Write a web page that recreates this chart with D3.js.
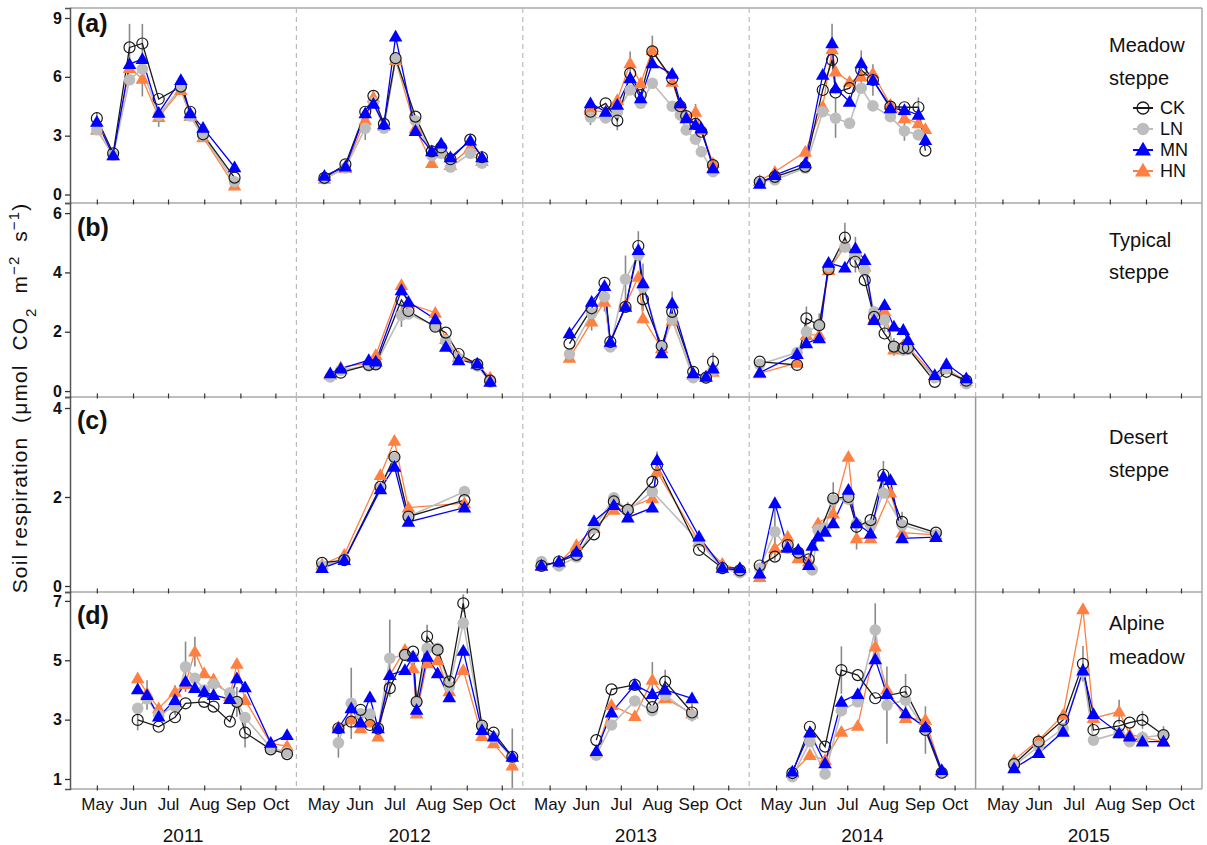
<!DOCTYPE html>
<html><head><meta charset="utf-8">
<script src="https://cdn.jsdelivr.net/npm/d3@7"></script>
<style>body{margin:0;background:#fff;} svg{display:block;font-family:"Liberation Sans",Arial,Helvetica,sans-serif;} text{white-space:pre;}</style>
</head><body><svg id="c" width="1207" height="845"></svg>
<script>
const years = [2011, 2012, 2013, 2014, 2015];
const months = ["May","Jun","Jul","Aug","Sep","Oct"];
const seriesNames = ["CK","LN","MN","HN"];
const rowLetters = ["(a)","(b)","(c)","(d)"];
const rowNames = [["Meadow","steppe"],["Typical","steppe"],["Desert","steppe"],["Alpine","meadow"]];
const ticksA = [0,3,6,9], ticksB = [0,2,4,6], ticksC = [0,2,4], ticksD = [1,3,5,7];

// rows: [date, CK, LN, MN, HN]
const meadow2011 = [
["05-01",3.89,3.3,3.71,3.3],["05-15",2.1,2.0,2.0,2.0],["05-29",7.5,5.85,6.65,6.45],
["06-09",7.7,6.4,6.9,5.9],["06-23",4.87,4.05,4.17,3.95],["07-12",5.5,5.45,5.84,5.33],
["07-20",4.22,4.0,4.14,4.0],["07-31",3.07,3.0,3.4,2.92],["08-27",0.86,0.65,1.39,0.45]];
const meadow2012 = [
["05-02",0.85,0.8,0.95,0.8],["05-20",1.54,1.35,1.42,1.35],["06-06",4.22,3.38,4.14,3.8],
["06-13",5.03,4.7,4.62,4.95],["06-22",3.6,3.38,3.58,3.5],["07-02",6.95,6.9,8.05,6.85],
["07-19",3.97,3.76,3.24,3.38],["08-02",2.2,2.0,2.2,1.6],["08-10",2.4,2.1,2.6,2.2],
["08-18",1.8,1.4,1.9,1.5],["09-04",2.8,2.1,2.75,2.4],["09-14",1.9,1.6,1.9,1.7]];
const meadow2013 = [
["06-05",4.22,3.94,4.65,4.3],["06-18",4.65,3.9,4.22,4.2],["06-28",3.77,4.2,4.57,4.82],
["07-09",6.18,5.33,5.93,6.69],["07-18",5.07,4.65,4.9,5.67],["07-28",7.3,5.67,6.69,7.37],
["08-14",5.9,4.5,6.15,5.75],["08-21",4.5,4.06,4.65,4.5],["08-26",4.0,3.29,3.89,4.0],
["09-03",3.6,2.82,3.55,4.22],["09-08",3.2,2.18,3.38,3.3],["09-18",1.5,1.16,1.34,1.59]];
const meadow2014 = [
["04-17",0.65,0.65,0.55,0.7],["04-30",0.9,0.75,0.99,1.16],["05-26",1.42,1.35,1.59,2.18],
["06-10",5.33,4.22,6.1,4.48],["06-18",6.86,null,7.71,7.4],["06-21",5.2,3.89,5.42,6.27],
["07-03",5.42,3.63,4.73,5.75],["07-13",6.35,5.42,6.69,6.01],["07-23",5.84,4.52,5.84,6.18],
["08-07",4.48,3.97,4.4,4.57],["08-19",4.45,3.24,4.31,3.89],["08-31",4.45,3.04,4.06,3.63],
["09-06",2.24,null,2.78,3.33]];
const typical2012 = [
["05-07",null,0.48,0.6,0.55],["05-16",0.62,0.7,0.76,0.8],["06-09",0.88,0.85,1.04,0.95],
["06-15",0.9,0.9,0.99,1.21],["07-07",3.07,2.56,3.4,3.57],["07-13",2.7,2.6,3.01,2.95],
["08-05",2.17,2.2,2.42,2.64],["08-14",1.97,1.7,1.49,1.75],["08-25",1.25,1.1,1.04,1.15],
["09-10",0.9,0.85,0.93,0.9],["09-21",0.35,0.3,0.31,0.45]];
const typical2013 = [
["05-18",1.6,1.25,1.95,1.12],["06-06",2.79,2.62,3.01,2.34],["06-17",3.65,3.18,3.54,3.01],
["06-22",1.66,1.49,1.66,1.6],["07-05",2.84,3.77,2.84,2.9],["07-16",4.89,4.58,4.75,3.85],
["07-20",3.09,3.5,3.63,2.45],["08-05",1.52,1.49,1.27,1.44],["08-14",2.67,2.42,2.96,2.38],
["09-01",0.65,0.45,0.6,0.55],["09-12",0.45,0.45,0.48,0.5],["09-18",0.99,0.7,0.76,0.65]];
const typical2014 = [
["04-17",0.99,0.9,0.62,0.6],["05-19",0.88,1.3,1.25,0.95],["05-27",2.45,2.0,1.61,1.89],
["06-07",2.22,2.22,1.78,1.9],["06-15",4.1,4.2,4.32,4.08],["06-29",5.17,4.86,4.16,4.86],
["07-08",4.36,4.6,4.81,4.7],["07-16",3.74,4.08,4.42,4.2],["07-24",2.5,2.67,2.39,2.45],
["08-02",1.94,2.4,2.9,2.7],["08-10",1.5,1.49,2.17,1.4],["08-18",1.45,1.38,2.06,1.55],
["08-22",1.45,1.4,1.72,1.5],["09-14",0.31,0.45,0.54,0.5],["09-24",0.65,0.75,0.91,0.75],
["10-11",0.35,0.25,0.43,0.33]];
const desert2012 = [
["04-30",0.52,0.45,0.4,0.48],["05-19",0.58,0.6,0.58,0.7],["06-19",2.23,2.2,2.17,2.49],
["07-01",2.9,2.87,2.68,3.26],["07-13",1.56,1.56,1.44,1.76],["08-30",1.93,2.12,1.76,1.86]];
const desert2013 = [
["04-24",0.45,0.55,0.46,0.45],["05-09",0.55,0.45,0.55,0.52],["05-24",0.7,0.65,0.77,0.92],
["06-08",1.16,1.3,1.46,1.3],["06-25",1.9,1.98,1.82,1.71],["07-07",1.71,1.7,1.54,1.75],
["07-28",2.34,2.12,1.76,1.97],["08-01",2.72,null,2.83,2.57],["09-06",0.81,1.0,1.11,1.0],
["09-26",0.4,0.4,0.41,0.5],["10-11",0.35,0.3,0.4,0.35]];
const desert2014 = [
["04-17",0.46,0.4,0.28,0.2],["04-30",0.66,1.22,1.86,0.85],["05-11",0.92,0.85,0.86,1.11],
["05-20",0.75,0.75,0.81,0.62],["05-29",0.6,null,0.47,0.55],["06-01",null,0.36,0.9,null],
["06-06",null,1.26,1.11,1.41],["06-12",null,1.3,1.22,null],["06-19",1.97,1.93,1.41,1.63],
["07-02",2.0,1.95,2.16,2.9],["07-09",1.33,1.4,1.41,1.07],["07-21",1.48,1.37,1.18,1.07],
["08-01",2.5,2.09,2.46,null],["08-07",null,null,2.38,2.1],["08-17",1.44,1.37,1.07,1.2],
["09-15",1.2,1.15,1.1,1.15]];
const alpine2011 = [
["06-05",2.99,3.38,4.02,4.39],["06-13",null,3.7,3.83,3.89],["06-23",2.76,3.15,3.1,3.38],
["07-07",3.08,3.45,3.66,3.94],["07-16",3.55,4.78,4.28,4.2],["07-24",null,4.39,4.06,5.29],
["08-01",3.6,4.0,3.94,4.56],["08-09",3.44,4.2,3.83,4.36],["08-23",2.93,3.9,3.69,3.8],
["08-29",3.6,3.6,4.39,4.88],["09-05",2.56,3.07,4.09,3.66],["09-27",2.0,2.05,2.22,2.2],
["10-11",1.84,1.9,2.48,2.11]];
const alpine2012 = [
["05-14",2.71,2.22,2.71,2.75],["05-25",2.93,3.55,3.38,3.0],["06-02",3.33,3.2,2.9,2.71],
["06-10",2.82,3.19,3.75,2.9],["06-17",2.7,2.7,2.71,2.43],["06-27",4.06,5.07,4.5,4.5],
["07-10",5.18,5.18,4.67,5.35],["07-17",5.29,5.1,5.12,4.73],["07-20",3.6,3.6,3.33,3.2],
["07-29",5.8,5.4,5.12,4.9],["08-07",5.35,5.4,4.56,5.0],["08-17",4.28,4.1,3.75,3.95],
["08-29",6.92,6.25,5.32,4.67],["09-14",2.8,2.8,2.65,2.45],["09-24",2.56,2.4,2.43,2.2],
["10-10",1.75,1.7,1.75,1.45]];
const alpine2013 = [
["06-10",2.31,1.8,1.94,1.9],["06-23",4.02,2.82,3.24,3.49],["07-13",4.17,3.63,4.17,3.12],
["07-28",3.42,3.3,3.86,4.34],["08-08",4.28,3.83,4.0,3.72],["08-31",3.24,3.15,3.72,3.21]];
const alpine2014 = [
["05-15",1.2,1.08,1.25,1.2],["05-30",2.76,2.26,2.56,1.81],["06-12",2.09,1.17,1.53,1.64],
["06-26",4.67,3.3,3.6,2.59],["07-10",4.5,3.6,3.86,2.79],["07-25",3.72,6.02,5.03,5.46],
["08-04",null,3.49,3.86,4.02],["08-20",3.94,3.66,3.21,3.05],["09-06",2.65,2.65,2.74,2.99],
["09-20",1.21,1.2,1.3,1.25]];
const alpine2015 = [
["05-11",1.5,1.45,1.36,1.64],["06-01",2.26,2.1,1.87,2.31],["06-22",2.99,2.7,2.59,3.16],
["07-09",4.88,4.6,4.65,6.72],["07-18",2.65,2.31,3.19,3.05],["08-09",2.79,2.55,2.54,3.27],
["08-18",2.9,2.26,2.43,2.5],["08-29",2.99,2.4,2.26,2.4],["09-16",2.48,2.48,2.26,2.26]];

// error bars: [series, point index, half length]
const errMeadow2011 = [["CK",0,0.3],["CK",2,1.2],["CK",3,1.0],["HN",3,0.9],["HN",4,0.5]];
const errMeadow2012 = [["LN",2,0.6],["CK",3,0.3],["MN",5,0.3],["CK",8,0.4]];
const errMeadow2013 = [["LN",0,0.4],["CK",2,0.5],["HN",3,0.6],["CK",5,0.8],["HN",9,0.4]];
const errMeadow2014 = [["MN",4,1.0],["LN",5,1.0],["CK",7,1.0],["CK",8,0.8],["LN",10,0.5],["CK",11,0.5]];
const errTypical2012 = [["LN",4,0.4]];
const errTypical2013 = [["HN",1,0.3],["LN",2,0.5],["LN",4,0.8],["CK",5,0.5],["LN",6,0.8],["MN",8,0.4],["CK",11,0.3]];
const errTypical2014 = [["CK",2,0.4],["LN",3,0.4],["CK",5,0.5],["LN",6,0.6],["LN",9,0.4],["LN",10,0.3]];
const errDesert2012 = [];
const errDesert2013 = [["CK",4,0.2],["CK",7,0.3]];
const errDesert2014 = [["LN",1,0.65],["LN",8,0.4],["HN",10,0.25],["MN",12,0.35],["LN",14,0.3]];
const errAlpine2011 = [["CK",0,0.35],["MN",1,0.5],["MN",3,0.5],["LN",4,0.85],["HN",5,0.5],["CK",9,0.5],["CK",10,0.5]];
const errAlpine2012 = [["LN",0,0.5],["LN",1,1.2],["LN",5,1.3],["CK",9,0.4],["CK",12,0.3],["LN",15,1.0]];
const errAlpine2013 = [["HN",3,0.6],["CK",4,0.4],["CK",5,0.3]];
const errAlpine2014 = [["CK",3,0.8],["LN",5,0.9],["LN",6,1.3],["CK",7,0.6],["LN",8,0.8]];
const errAlpine2015 = [["CK",3,0.6],["HN",5,0.4],["CK",7,0.3],["LN",8,0.3]];

const panels = [
 {row:0,col:0,data:meadow2011,err:errMeadow2011},{row:0,col:1,data:meadow2012,err:errMeadow2012},
 {row:0,col:2,data:meadow2013,err:errMeadow2013},{row:0,col:3,data:meadow2014,err:errMeadow2014},
 {row:1,col:1,data:typical2012,err:errTypical2012},{row:1,col:2,data:typical2013,err:errTypical2013},
 {row:1,col:3,data:typical2014,err:errTypical2014},
 {row:2,col:1,data:desert2012,err:errDesert2012},{row:2,col:2,data:desert2013,err:errDesert2013},
 {row:2,col:3,data:desert2014,err:errDesert2014},
 {row:3,col:0,data:alpine2011,err:errAlpine2011},{row:3,col:1,data:alpine2012,err:errAlpine2012},
 {row:3,col:2,data:alpine2013,err:errAlpine2013},{row:3,col:3,data:alpine2014,err:errAlpine2014},
 {row:3,col:4,data:alpine2015,err:errAlpine2015}];

// ---------- layout ----------
const L = 70, R = 1202, W = (R - L) / 5;
const rowBox = [[8,203],[203,397],[397,592],[592,789]];
const rowDomain = [[-0.433,9.51],[-0.2,6.34],[-0.135,4.247],[0.663,7.30]];
const rowTicks = [ticksA, ticksB, ticksC, ticksD];
const colors = {CK:"#1a1a1a", LN:"#bdbdbd", MN:"#0000ff", HN:"#ff8040"};
const drawOrder = ["HN","LN","CK","MN"];
const frameCol = "#a8a8a8";

const svg = d3.select("#c");
svg.append("rect").attr("width",1207).attr("height",845).attr("fill","#fff");

const yScales = rowBox.map((b,i)=>d3.scaleLinear().domain(rowDomain[i]).range([b[1], b[0]]));
const xScales = years.map((yr,c)=>d3.scaleTime()
  .domain([new Date(yr,3,8), new Date(yr,9,19)]).range([L + c*W, L + (c+1)*W]));

// frame
const g0 = svg.append("g");
g0.append("line").attr("x1",L).attr("x2",R).attr("y1",rowBox[0][0]).attr("y2",rowBox[0][0]).attr("stroke",frameCol).attr("stroke-width",1.5);
rowBox.forEach(b=>{
  g0.append("line").attr("x1",L).attr("x2",R).attr("y1",b[1]).attr("y2",b[1]).attr("stroke",frameCol).attr("stroke-width",1.5);
});
g0.append("line").attr("x1",R).attr("x2",R).attr("y1",rowBox[0][0]).attr("y2",rowBox[3][1]).attr("stroke",frameCol).attr("stroke-width",1.5);
for (let c=1;c<5;c++){
  rowBox.forEach((b,r)=>{
    const solid = (c===4 && r>=2);
    g0.append("line").attr("x1",L+c*W).attr("x2",L+c*W).attr("y1",b[0]).attr("y2",b[1])
      .attr("stroke",solid?"#999":"#bbb").attr("stroke-width",solid?1.5:1.2)
      .attr("stroke-dasharray",solid?null:"5,4");
  });
}

// x ticks per row / column
rowBox.forEach((b,r)=>{
  years.forEach((yr,c)=>{
    const ax = d3.axisBottom(xScales[c])
      .tickValues(months.map((m,i)=>new Date(yr,4+i,1)))
      .tickSize(-5).tickFormat(r===3 ? (d=>months[d.getMonth()-4]) : "");
    const g = svg.append("g").attr("transform",`translate(0,${b[1]+1.5})`).call(ax);
    g.select(".domain").remove();
    g.selectAll(".tick line").attr("stroke","#333").attr("stroke-width",1.2);
    g.selectAll(".tick text").attr("font-size",17).attr("fill","#111").attr("dy","0.95em")
      .attr("font-family","Liberation Sans, Arial, sans-serif");
  });
});

// y axes
rowBox.forEach((b,r)=>{
  const ax = d3.axisLeft(yScales[r]).tickValues(rowTicks[r]).tickFormat(d3.format("d"))
    .tickSize(5).tickPadding(3);
  const g = svg.append("g").attr("transform",`translate(${L},0)`).call(ax);
  g.select(".domain").attr("stroke","#555").attr("stroke-width",1.5);
  g.selectAll(".tick line").attr("stroke","#333").attr("stroke-width",1.3);
  g.selectAll(".tick text").attr("font-size",16).attr("font-weight","bold").attr("fill","#111")
    .attr("font-family","Liberation Sans, Arial, sans-serif");
});

// year labels
years.forEach((yr,c)=>{
  svg.append("text").attr("x",L+c*W+W/2).attr("y",842).attr("text-anchor","middle")
    .attr("font-size",19).attr("fill","#111").text(yr);
});

// panel letters and names
const letterY = [32,236,429,624];
const nameY = [[52,85],[247,279],[444,477],[630,664]];
rowLetters.forEach((t,r)=>{
  svg.append("text").attr("x",77).attr("y",letterY[r]).attr("font-size",25)
    .attr("font-weight","bold").attr("fill","#111").text(t);
  const nm = svg.append("text").attr("font-size",20).attr("fill","#111");
  nm.append("tspan").attr("x",1109).attr("y",nameY[r][0]).text(rowNames[r][0]);
  nm.append("tspan").attr("x",1109).attr("y",nameY[r][1]).text(rowNames[r][1]);
});

// y title
const yt = svg.append("text").attr("transform","translate(27,398) rotate(-90)")
  .attr("text-anchor","middle").attr("font-size",21).attr("fill","#111").attr("letter-spacing",1.1);
yt.append("tspan").text("Soil respiration  (μmol  CO");
yt.append("tspan").attr("font-size",15).attr("baseline-shift","sub").text("2");
yt.append("tspan").text("  m");
yt.append("tspan").attr("font-size",15).attr("baseline-shift","super").text("−2");
yt.append("tspan").text("  s");
yt.append("tspan").attr("font-size",15).attr("baseline-shift","super").text("−1");
yt.append("tspan").text(")");

// marker helper
function marker(g, s, x, y){
  if (s==="CK") g.append("circle").attr("cx",x).attr("cy",y).attr("r",5.5)
     .attr("fill","none").attr("stroke",colors.CK).attr("stroke-width",1.2);
  else if (s==="LN") g.append("circle").attr("cx",x).attr("cy",y).attr("r",5.8).attr("fill",colors.LN);
  else g.append("path").attr("d",d3.symbol(d3.symbolTriangle,80)())
     .attr("transform",`translate(${x},${y+1})`).attr("fill",colors[s]);
}

// panels
panels.forEach(p=>{
  const yr = years[p.col], x = xScales[p.col], y = yScales[p.row];
  const pts = p.data.map(d=>{const [m,dd]=d[0].split("-").map(Number); return {date:new Date(yr,m-1,dd), v:d.slice(1)};});
  const g = svg.append("g");
  p.err.forEach(([s,i,e])=>{
    const k = seriesNames.indexOf(s), pt = pts[i];
    if (!pt || pt.v[k]==null) return;
    g.append("line").attr("x1",x(pt.date)).attr("x2",x(pt.date))
      .attr("y1",y(pt.v[k]-e)).attr("y2",y(pt.v[k]+e)).attr("stroke","#8a8a8a").attr("stroke-width",1.6);
  });
  drawOrder.forEach(s=>{
    const k = seriesNames.indexOf(s);
    const ser = pts.filter(d=>d.v[k]!=null);
    g.append("path").datum(ser).attr("fill","none").attr("stroke",colors[s])
      .attr("stroke-width",s==="LN"?1.6:1.3)
      .attr("d",d3.line().x(d=>x(d.date)).y(d=>y(d.v[k])));
  });
  drawOrder.forEach(s=>{
    const k = seriesNames.indexOf(s);
    pts.filter(d=>d.v[k]!=null).forEach(d=>marker(g,s,x(d.date),y(d.v[k])));
  });
});

// legend
const legY = [108,129,150,171];
seriesNames.forEach((s,i)=>{
  const g = svg.append("g");
  g.append("line").attr("x1",1133).attr("x2",1153).attr("y1",legY[i]).attr("y2",legY[i])
    .attr("stroke",colors[s]).attr("stroke-width",2);
  if (s==="CK") g.append("circle").attr("cx",1143).attr("cy",legY[i]).attr("r",6)
     .attr("fill","none").attr("stroke",colors.CK).attr("stroke-width",1.3);
  else if (s==="LN") g.append("circle").attr("cx",1143).attr("cy",legY[i]).attr("r",6.2).attr("fill",colors.LN);
  else g.append("path").attr("d",d3.symbol(d3.symbolTriangle,110)())
     .attr("transform",`translate(1143,${legY[i]+1})`).attr("fill",colors[s]);
  g.append("text").attr("x",1160).attr("y",legY[i]+6).attr("font-size",18).attr("fill","#111").text(s);
});
</script></body></html>
